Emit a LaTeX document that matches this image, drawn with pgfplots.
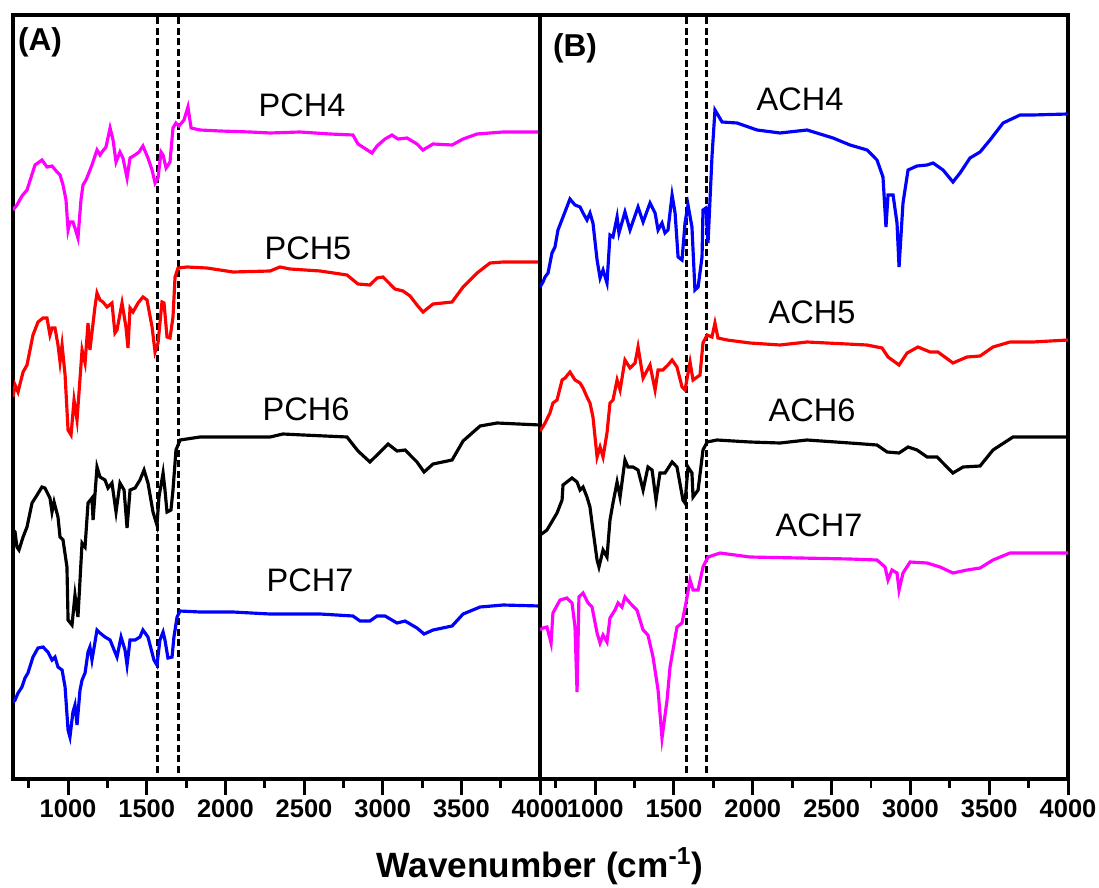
\documentclass[border=0pt]{standalone}
\usepackage{fontspec}
\setmainfont{Liberation Sans}
\usepackage{pgfplots}
\pgfplotsset{compat=1.18}

\definecolor{cmag}{RGB}{255,0,255}
\definecolor{cred}{RGB}{255,0,0}
\definecolor{cblue}{RGB}{0,0,255}

\pgfplotsset{
  ftir/.style={
    scale only axis, height=15.28cm,
    xmin=650, xmax=4000, ymin=-6, ymax=758,
    ytick=\empty,
    xtick={1000,1500,...,4000}, minor xtick={750,1250,...,3750},
    xtick pos=left, tick align=outside,
    major tick length=0.32cm, minor tick length=0.18cm,
    line width=1.8pt,
    axis line style={line width=1.8pt},
    every tick/.style={line width=1.7pt, black},
    tick label style={font=\fontsize{14.5}{16}\selectfont\bfseries},
    xticklabel style={anchor=center, yshift=-0.28cm},
    /pgf/number format/assume math mode=true,
    /pgf/number format/1000 sep={},
    every axis plot/.append style={line width=1.8pt, no marks},
    clip=true,
  },
  vline/.style={black, line width=1.6pt, dash pattern=on 4pt off 2pt},
}
\tikzset{lab/.style={font=\fontsize{18.5}{20}\selectfont}}

\begin{document}
\begin{tikzpicture}
\useasboundingbox (-0.26,-2.16) rectangle (21.72,15.58);

% ---------------- panel A ----------------
\begin{axis}[ftir, width=10.54cm, at={(0,0)}, anchor=south west]
\addplot[vline] coordinates {(1567,0) (1567,758)};
\addplot[vline] coordinates {(1702,0) (1702,758)};
% PCH4
\addplot[cmag] coordinates {
(650,563) (675,568) (707,577) (739,583) (790,608) (834,613) (866,606) (898,607)
(930,601) (949,598) (968,588) (987,573) (1000,543) (1012,551) (1031,551) (1044,545)
(1063,535) (1082,573) (1095,588) (1114,593) (1127,598) (1152,608) (1184,623) (1203,618)
(1216,621) (1241,626) (1267,645) (1286,633) (1305,611) (1330,621) (1349,615) (1375,595)
(1394,615) (1426,618) (1451,621) (1476,627) (1508,615) (1534,603) (1553,590) (1572,595)
(1591,621) (1604,618) (1623,605) (1648,611) (1667,645) (1686,650) (1705,647) (1737,653)
(1762,666) (1782,645) (1839,643) (1966,642) (2157,641) (2284,640) (2474,641) (2665,639)
(2811,638) (2843,629) (2932,620) (2964,627) (3015,634) (3059,638) (3097,634) (3155,635)
(3218,629) (3256,623) (3320,629) (3441,628) (3511,634) (3600,639) (3765,641) (4000,641)};
% PCH5
\addplot[cred] coordinates {
(650,376) (663,388) (682,381) (714,401) (739,408) (777,438) (809,451) (841,455)
(866,455) (885,438) (898,445) (917,445) (936,428) (949,411) (962,428) (981,398)
(1000,343) (1019,338) (1038,373) (1057,353) (1089,423) (1108,410) (1127,450) (1139,423)
(1171,466) (1184,480) (1203,473) (1222,471) (1248,466) (1279,470) (1298,440) (1311,443)
(1343,470) (1368,446) (1381,425) (1394,465) (1413,461) (1445,470) (1476,476) (1502,473)
(1534,446) (1553,421) (1572,430) (1597,471) (1610,470) (1629,436) (1648,435) (1667,456)
(1680,496) (1699,505) (1756,506) (1883,505) (2049,501) (2284,502) (2347,506) (2411,504)
(2602,502) (2773,498) (2843,489) (2919,488) (2964,495) (3002,496) (3078,484) (3129,482)
(3174,477) (3218,468) (3256,461) (3320,469) (3441,471) (3511,486) (3600,500) (3682,510)
(3765,511) (4000,511)};
% PCH6
\addplot[black] coordinates {
(650,243) (663,241) (675,226) (688,223) (714,236) (739,246) (771,270) (803,278)
(834,286) (853,285) (885,275) (898,261) (911,271) (936,256) (949,236) (968,233)
(993,206) (1000,153) (1025,148) (1044,178) (1063,156) (1089,230) (1108,226) (1127,270)
(1152,275) (1159,253) (1184,306) (1203,296) (1235,293) (1254,285) (1279,290) (1305,261)
(1330,290) (1356,283) (1375,245) (1394,283) (1426,285) (1457,293) (1483,303) (1508,290)
(1540,261) (1565,248) (1578,276) (1604,300) (1616,283) (1629,261) (1654,263) (1667,283)
(1686,323) (1712,333) (1839,336) (2284,336) (2366,339) (2494,338) (2773,336) (2843,322)
(2919,311) (2964,318) (3034,329) (3091,322) (3142,323) (3218,311) (3263,301) (3320,309)
(3441,313) (3511,332) (3619,347) (3727,350) (4000,348)};
% PCH7
\addplot[cblue] coordinates {
(650,71) (663,73) (682,80) (707,86) (726,95) (745,100) (777,116) (809,125)
(841,126) (872,121) (898,113) (917,116) (936,106) (962,103) (981,86) (1000,43)
(1012,36) (1031,61) (1044,68) (1057,48) (1076,83) (1089,93) (1108,100) (1127,121)
(1139,126) (1152,113) (1184,143) (1203,140) (1235,136) (1267,133) (1311,116) (1337,136)
(1362,123) (1375,108) (1394,133) (1426,133) (1457,136) (1476,143) (1508,136) (1546,113)
(1565,108) (1584,133) (1604,141) (1616,133) (1635,115) (1661,116) (1673,136) (1693,156)
(1712,162) (1839,161) (2049,161) (2284,159) (2602,159) (2811,157) (2856,152) (2919,152)
(2964,157) (3015,157) (3091,150) (3142,152) (3218,145) (3263,139) (3320,143) (3441,147)
(3511,159) (3619,166) (3765,168) (4000,167)};
\node[font=\fontsize{18}{20}\selectfont\bfseries] at (axis cs:822,731) {(A)};
\node[lab] at (axis cs:2487,668) {PCH4};
\node[lab] at (axis cs:2525,525) {PCH5};
\node[lab] at (axis cs:2513,364) {PCH6};
\node[lab] at (axis cs:2538,193) {PCH7};
\end{axis}

% ---------------- panel B ----------------
\begin{axis}[ftir, width=10.56cm, at={(10.54cm,0)}, anchor=south west]
\addplot[vline] coordinates {(1580,0) (1580,758)};
\addplot[vline] coordinates {(1705,0) (1705,758)};
% ACH4
\addplot[cblue] coordinates {
(650,486) (669,491) (682,496) (701,500) (726,520) (745,526) (764,543) (796,556) (840,574)
(872,568) (904,566) (923,560) (948,553) (967,560) (986,550) (1012,513) (1031,495)
(1050,503) (1075,490) (1094,538) (1113,536) (1139,556) (1151,540) (1189,561) (1221,543)
(1272,566) (1304,551) (1348,570) (1380,560) (1399,543) (1424,550) (1443,540) (1462,543)
(1488,578) (1507,560) (1526,516) (1551,513) (1570,550) (1589,568) (1614,546) (1633,483)
(1653,486) (1678,516) (1684,563) (1703,565) (1716,530) (1741,616) (1760,663) (1779,658)
(1805,651) (1900,650) (2027,643) (2173,640) (2344,643) (2509,635) (2617,628) (2725,623)
(2788,613) (2826,596) (2845,546) (2858,578) (2890,578) (2915,550) (2928,506) (2953,570)
(2985,603) (3042,607) (3106,608) (3144,610) (3207,603) (3270,591) (3315,600) (3378,615)
(3442,621) (3505,633) (3588,650) (3696,658) (3778,658) (4000,659)};
% ACH5
\addplot[cred] coordinates {
(650,342) (663,345) (682,350) (713,360) (732,370) (758,373) (790,393) (809,395) (840,401)
(872,393) (904,390) (923,385) (948,376) (967,370) (986,356) (1012,316) (1031,326)
(1050,316) (1075,340) (1094,370) (1113,373) (1139,393) (1158,383) (1189,413) (1221,405)
(1253,410) (1272,426) (1304,395) (1348,408) (1380,383) (1399,403) (1430,403) (1462,408)
(1488,413) (1519,406) (1551,386) (1570,383) (1602,411) (1621,393) (1665,398) (1684,430)
(1710,438) (1741,436) (1760,450) (1779,435) (1837,433) (1982,430) (2173,428) (2344,431)
(2725,428) (2820,425) (2858,416) (2928,408) (2979,420) (3048,426) (3125,421) (3175,421)
(3270,410) (3359,416) (3442,417) (3524,426) (3632,431) (3778,431) (4000,433)};
% ACH6
\addplot[black] coordinates {
(650,238) (669,240) (694,243) (713,248) (758,260) (790,273) (796,288) (853,295)
(885,291) (904,283) (923,286) (948,276) (967,266) (980,250) (1012,213) (1024,206)
(1050,223) (1075,216) (1094,253) (1113,270) (1139,291) (1158,276) (1189,313) (1208,306)
(1240,306) (1272,303) (1304,283) (1335,306) (1361,303) (1386,273) (1411,300) (1443,300)
(1488,311) (1519,306) (1557,273) (1570,270) (1589,306) (1614,300) (1621,276) (1653,283)
(1684,323) (1710,331) (1773,333) (1982,331) (2173,330) (2344,333) (2617,330) (2788,328)
(2852,321) (2928,320) (2985,326) (3042,323) (3106,316) (3169,316) (3232,306) (3270,300)
(3334,306) (3442,307) (3524,323) (3651,336) (3778,336) (4000,336)};
% ACH7
\addplot[cmag] coordinates {
(650,143) (669,145) (694,146) (720,130) (732,160) (777,173) (821,175) (853,170)
(872,146) (885,81) (897,176) (923,180) (955,170) (980,166) (1012,140) (1031,130)
(1050,138) (1075,131) (1094,155) (1126,163) (1145,170) (1170,166) (1189,176) (1221,170)
(1265,163) (1304,143) (1335,138) (1367,116) (1399,83) (1424,35) (1456,73) (1475,106)
(1519,146) (1551,150) (1576,170) (1602,193) (1621,183) (1653,183) (1684,206) (1716,216)
(1792,220) (1982,216) (2300,215) (2617,214) (2788,213) (2839,206) (2858,193) (2883,203)
(2915,200) (2928,183) (2953,200) (2998,211) (3106,210) (3188,206) (3270,200) (3359,203)
(3442,205) (3524,213) (3632,220) (3778,220) (4000,220)};
\node[font=\fontsize{18}{20}\selectfont\bfseries] at (axis cs:872,725) {(B)};
\node[lab] at (axis cs:2300,674) {ACH4};
\node[lab] at (axis cs:2376,461) {ACH5};
\node[lab] at (axis cs:2376,363) {ACH6};
\node[lab] at (axis cs:2420,248) {ACH7};
\end{axis}

\node[font=\fontsize{20}{22}\selectfont\bfseries] at (10.54,-1.74) {Wavenumber (cm\textsuperscript{-1})};
\end{tikzpicture}
\end{document}
